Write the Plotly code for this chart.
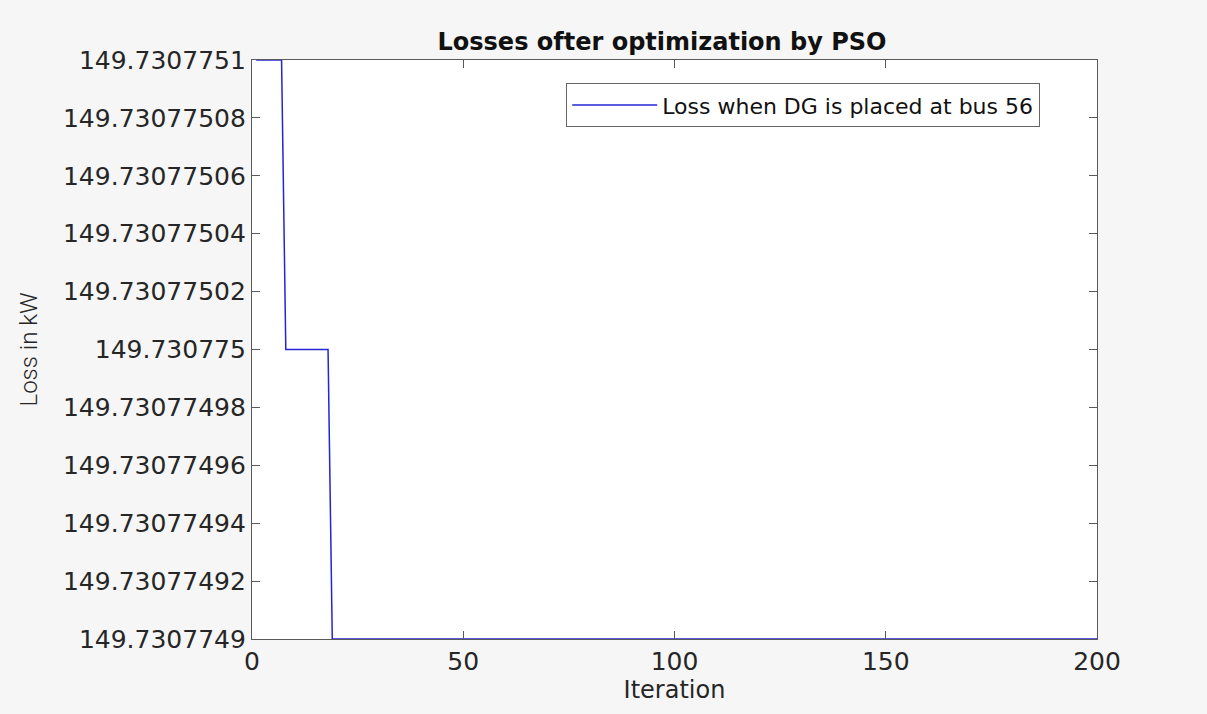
import plotly.graph_objects as go

# Data (step-wise convergence of PSO)
iterations = [1, 7, 8, 18, 19, 200]
loss_kw = [149.7307751, 149.7307751, 149.730775, 149.730775, 149.7307749, 149.7307749]

y_tick_vals = [149.7307749, 149.73077492, 149.73077494, 149.73077496, 149.73077498,
               149.730775, 149.73077502, 149.73077504, 149.73077506, 149.73077508,
               149.7307751]
y_tick_text = ["149.7307749", "149.73077492", "149.73077494", "149.73077496", "149.73077498",
               "149.730775", "149.73077502", "149.73077504", "149.73077506", "149.73077508",
               "149.7307751"]
x_tick_vals = [0, 50, 100, 150, 200]

fig = go.Figure()
fig.add_trace(go.Scatter(
    x=iterations, y=loss_kw, mode="lines",
    name="Loss when DG is placed at bus 56",
    line=dict(color="#2424d8", width=1.5),
))

axis_common = dict(
    showline=True, linecolor="#5a5a5a", linewidth=1.2, mirror="ticks",
    ticks="inside", ticklen=8, tickcolor="#5a5a5a", tickwidth=1.2,
    showgrid=False, zeroline=False,
    tickfont=dict(family="DejaVu Sans", size=25, color="#262626"),
)

fig.update_layout(
    width=1207, height=714,
    paper_bgcolor="#f6f6f6", plot_bgcolor="#ffffff",
    margin=dict(l=252, r=110, t=60, b=75),
    title=dict(text="<b>Losses ofter optimization by PSO</b>",
               font=dict(family="DejaVu Sans", size=24, color="#111111"),
               x=662 / 1207, xanchor="center", y=1 - 42 / 714, yanchor="middle"),
    xaxis=dict(range=[0, 200], tickvals=x_tick_vals,
               title=dict(text="Iteration", standoff=2,
                          font=dict(family="DejaVu Sans", size=24, color="#262626")),
               **axis_common),
    yaxis=dict(range=[149.7307749, 149.7307751], tickvals=y_tick_vals, ticktext=y_tick_text,
               title=dict(text="Loss in kW", standoff=18,
                          font=dict(family="Roboto", size=24, color="#262626", weight=300)),
               **axis_common),
    showlegend=True,
    legend=dict(x=(566 - 252) / 845, y=(639 - 83) / 579, xanchor="left", yanchor="top",
                bgcolor="#ffffff", bordercolor="#666666", borderwidth=1.2,
                font=dict(family="DejaVu Sans", size=22, color="#111111"),
                itemwidth=85),
)

fig.write_html("out.html")
